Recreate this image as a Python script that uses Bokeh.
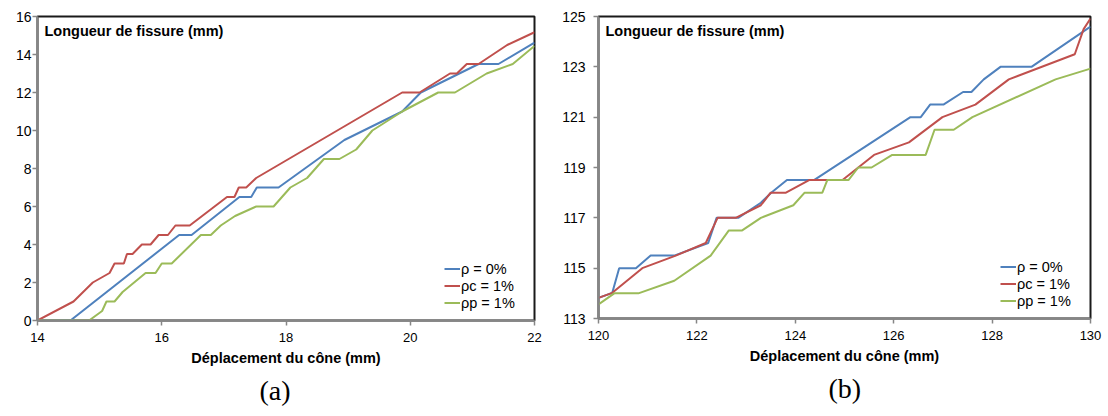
from bokeh.plotting import figure
from bokeh.layouts import row
from bokeh.models import Range1d, FixedTicker, Label, Legend, LegendItem, Title
from bokeh.embed import file_html
from bokeh.resources import INLINE

# ---------------- data : panel (a) ----------------
a_x_rho0 = [14.0, 14.53, 16.28, 16.48, 17.25, 17.44, 17.53, 17.88, 18.94, 19.87, 20.17, 21.1, 21.42, 22.0]
a_y_rho0 = [0.0, 0.0, 4.5, 4.5, 6.5, 6.5, 7.0, 7.0, 9.5, 11.0, 12.0, 13.5, 13.5, 14.63]

a_x_rhoc = [14.0, 14.58, 14.89, 15.16, 15.24, 15.39, 15.44, 15.53, 15.68, 15.82, 15.95, 16.1, 16.22, 16.45,
            17.05, 17.17, 17.24, 17.36, 17.52, 19.87, 20.15, 20.64, 20.75, 20.91, 21.1, 21.56, 22.0]
a_y_rhoc = [0.0, 1.0, 2.0, 2.5, 3.0, 3.0, 3.5, 3.5, 4.0, 4.0, 4.5, 4.5, 5.0, 5.0,
            6.5, 6.5, 7.0, 7.0, 7.5, 12.0, 12.0, 13.0, 13.0, 13.5, 13.5, 14.5, 15.17]

a_x_rhop = [14.0, 14.83, 15.04, 15.11, 15.24, 15.37, 15.74, 15.9, 16.0, 16.16, 16.63, 16.79, 16.95, 17.18,
            17.52, 17.8, 18.07, 18.34, 18.61, 18.86, 19.13, 19.39, 19.87, 20.45, 20.72, 21.23, 21.65, 22.0]
a_y_rhop = [0.0, 0.0, 0.5, 1.0, 1.0, 1.5, 2.5, 2.5, 3.0, 3.0, 4.5, 4.5, 5.0, 5.5,
            6.0, 6.0, 7.0, 7.5, 8.5, 8.5, 9.0, 10.0, 11.0, 12.0, 12.0, 13.0, 13.5, 14.45]

# ---------------- data : panel (b) ----------------
b_x_rho0 = [120.0, 120.28, 120.42, 120.76, 121.06, 121.54, 122.23, 122.4, 122.84, 123.3, 123.51, 123.83,
            124.38, 126.34, 126.55, 126.74, 127.01, 127.41, 127.58, 127.83, 128.17, 128.8, 130.0]
b_y_rho0 = [113.82, 114.02, 115.0, 115.0, 115.5, 115.5, 116.0, 117.0, 117.0, 117.6, 118.0, 118.5,
            118.5, 121.0, 121.0, 121.5, 121.5, 122.0, 122.0, 122.5, 123.0, 123.0, 124.6]

b_x_rhoc = [120.0, 120.28, 120.89, 121.57, 122.18, 122.42, 122.79, 123.3, 123.5, 123.81, 124.28, 124.96,
            125.28, 125.6, 126.31, 126.99, 127.66, 128.34, 129.68, 129.86, 130.0]
b_y_rhoc = [113.82, 114.02, 115.0, 115.5, 116.0, 117.0, 117.0, 117.5, 118.0, 118.0, 118.5, 118.5,
            119.0, 119.5, 120.0, 121.0, 121.5, 122.5, 123.5, 124.5, 124.92]

b_x_rhop = [120.0, 120.32, 120.81, 121.54, 122.28, 122.65, 122.92, 123.3, 123.96, 124.19, 124.55, 124.65,
            125.08, 125.28, 125.55, 125.97, 126.65, 126.83, 127.22, 127.6, 129.29, 130.0]
b_y_rhop = [113.56, 114.0, 114.0, 114.5, 115.5, 116.5, 116.5, 117.0, 117.5, 118.0, 118.0, 118.5,
            118.5, 119.0, 119.0, 119.5, 119.5, 120.5, 120.5, 121.0, 122.5, 122.93]

series_names = ["\u03c1 = 0%", "\u03c1c = 1%", "\u03c1p = 1%"]
series_colors = ["#4F81BD", "#C0504D", "#9BBB59"]

a_xticks = [14, 16, 18, 20, 22]
a_yticks = [0, 2, 4, 6, 8, 10, 12, 14, 16]
b_xticks = [120, 122, 124, 126, 128, 130]
b_yticks = [113, 115, 117, 119, 121, 123, 125]

y_title = "Longueur de fissure (mm)"
x_title = "D\u00e9placement du c\u00f4ne (mm)"

FONT = "Liberation Sans"
TOTAL_H = 406


def panel(xs, ys, xr, yr, xticks, yticks, tag, fw, fh, mbl, mbt, mbr, ystand, legend_x, tag_offset):
    p = figure(frame_width=fw, frame_height=fh, min_border_left=mbl, min_border_top=mbt,
               min_border_right=mbr, min_border_bottom=TOTAL_H - mbt - fh,
               x_range=Range1d(*xr), y_range=Range1d(*yr),
               output_backend="svg", toolbar_location=None,
               background_fill_color="white", border_fill_color="white")
    p.xgrid.visible = False
    p.ygrid.visible = False
    p.outline_line_color = "#1a1a1a"
    p.outline_line_width = 2

    for ax in (p.xaxis[0], p.yaxis[0]):
        ax.axis_line_color = "#868686"
        ax.axis_line_width = 2
        ax.major_tick_line_color = "#868686"
        ax.major_tick_line_width = 1.5
        ax.major_tick_out = 5
        ax.major_tick_in = 0
        ax.minor_tick_out = 0
        ax.minor_tick_in = 0
        ax.major_label_text_font = FONT
        ax.major_label_text_color = "black"

    p.xaxis.ticker = FixedTicker(ticks=xticks)
    p.yaxis.ticker = FixedTicker(ticks=yticks)
    p.xaxis.major_label_text_font_size = "13px"
    p.yaxis.major_label_text_font_size = "14px"
    p.xaxis.major_label_standoff = 7
    p.yaxis.major_label_standoff = ystand

    p.xaxis.axis_label = x_title
    p.xaxis.axis_label_text_font = FONT
    p.xaxis.axis_label_text_font_style = "bold"
    p.xaxis.axis_label_text_font_size = "14.5px"
    p.xaxis.axis_label_text_color = "black"
    p.xaxis.axis_label_standoff = 5

    items = []
    for x, y, name, c in zip(xs, ys, series_names, series_colors):
        r = p.line(x, y, line_color=c, line_width=2)
        items.append(LegendItem(label=name, renderers=[r]))

    leg = Legend(items=items, location=(legend_x, 9), border_line_color=None,
                 background_fill_alpha=0, padding=0, margin=0, spacing=0,
                 glyph_width=16, glyph_height=17, label_height=17, label_standoff=1,
                 label_text_font=FONT, label_text_font_size="14.5px", label_text_color="black")
    p.add_layout(leg)

    p.add_layout(Label(x=7, y=fh - 14, x_units="screen", y_units="screen", text=y_title,
                       text_font=FONT, text_font_style="bold", text_font_size="14.5px",
                       text_color="black", text_baseline="alphabetic"))
    p.add_layout(Title(text=tag, align="left", offset=tag_offset, standoff=8,
                       text_font="Liberation Serif", text_font_size="28px",
                       text_font_style="normal", text_color="black"), "below")
    return p


p1 = panel([a_x_rho0, a_x_rhoc, a_x_rhop], [a_y_rho0, a_y_rhoc, a_y_rhop],
           (14, 22), (0, 16), a_xticks, a_yticks, "(a)",
           fw=497, fh=304, mbl=37, mbt=14, mbr=15, ystand=1, legend_x=407, tag_offset=222)
p2 = panel([b_x_rho0, b_x_rhoc, b_x_rhop], [b_y_rho0, b_y_rhoc, b_y_rhop],
           (120, 130), (113, 125), b_xticks, b_yticks, "(b)",
           fw=492, fh=302, mbl=49, mbt=16, mbr=12, ystand=8, legend_x=402, tag_offset=230)

layout = row(p1, p2)
open("out.html", "w").write(file_html(layout, INLINE))
